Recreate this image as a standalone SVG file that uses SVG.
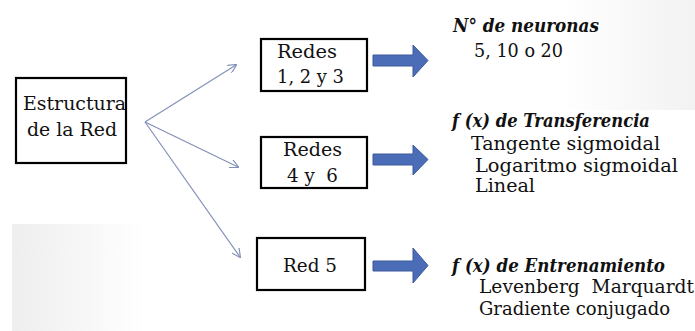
<svg xmlns="http://www.w3.org/2000/svg" width="695" height="331" viewBox="0 0 695 331">
<defs>
<style>
.box{fill:#fff;stroke:#000;stroke-width:2.2}
.t{font-family:"DejaVu Serif","Liberation Serif",serif;font-size:18px;fill:#111}
.h{font-family:"DejaVu Serif","Liberation Serif",serif;font-size:18px;font-style:italic;font-weight:bold;fill:#111}
.fan{stroke:#8391b8;stroke-width:1.2;fill:none}
.big{fill:#4b6cb7;stroke:#3c5a9c;stroke-width:1}
</style>
<marker id="ah" viewBox="0 0 10 10" refX="9" refY="5" markerWidth="9" markerHeight="9" markerUnits="userSpaceOnUse" orient="auto">
<path d="M0,0 L10,5 L0,10" fill="none" stroke="#8391b8" stroke-width="1.3"/>
</marker>
<linearGradient id="gl" x1="0" y1="0" x2="1" y2="0">
<stop offset="0" stop-color="#eeeeee"/>
<stop offset="1" stop-color="#ffffff"/>
</linearGradient>
<linearGradient id="gr" x1="0" y1="0" x2="1" y2="0">
<stop offset="0" stop-color="#ffffff"/>
<stop offset="1" stop-color="#f2f2f2"/>
</linearGradient>
</defs>
<rect width="695" height="331" fill="#fff"/>
<rect x="12" y="224" width="135" height="107" fill="url(#gl)"/>
<rect x="560" y="0" width="135" height="110" fill="url(#gr)"/>
<g id="connectors">
<line class="fan" x1="145" y1="122" x2="236" y2="65" marker-end="url(#ah)"/>
<line class="fan" x1="145" y1="122" x2="238" y2="167" marker-end="url(#ah)"/>
<line class="fan" x1="145" y1="122" x2="240" y2="257" marker-end="url(#ah)"/>
<path class="big" d="M373,55 L413,55 L413,45 L428,60.5 L413,77 L413,66 L373,66 Z"/>
<path class="big" d="M373,154 L413,154 L413,145 L428,159.5 L413,175 L413,165 L373,165 Z"/>
<path class="big" d="M373,261 L413,261 L413,248 L428,265.5 L413,283 L413,271 L373,271 Z"/>
</g>
<g id="estructura">
<rect class="box" x="16" y="78" width="110" height="85"/>
<text class="t" x="23" y="110" textLength="103" lengthAdjust="spacingAndGlyphs">Estructura</text>
<text class="t" x="27" y="136" textLength="90" lengthAdjust="spacingAndGlyphs">de la Red</text>
</g>
<g id="redes123">
<rect class="box" x="261" y="39" width="106" height="52"/>
<text class="t" x="277" y="58" textLength="60" lengthAdjust="spacingAndGlyphs">Redes</text>
<text class="t" x="277" y="83" textLength="67" lengthAdjust="spacingAndGlyphs">1, 2 y 3</text>
</g>
<g id="redes46">
<rect class="box" x="261" y="137" width="106" height="51"/>
<text class="t" x="283" y="156" textLength="59" lengthAdjust="spacingAndGlyphs">Redes</text>
<text class="t" x="287" y="182" xml:space="preserve" textLength="51" lengthAdjust="spacingAndGlyphs">4 y  6</text>
</g>
<g id="red5">
<rect class="box" x="257" y="238" width="108" height="52"/>
<text class="t" x="283" y="272" textLength="54" lengthAdjust="spacingAndGlyphs">Red 5</text>
</g>
<g id="neuronas">
<text class="h" x="453" y="32" textLength="146" lengthAdjust="spacingAndGlyphs">N° de neuronas</text>
<text class="t" x="474" y="57" textLength="89" lengthAdjust="spacingAndGlyphs">5, 10 o 20</text>
</g>
<g id="transferencia">
<text class="h" x="452" y="127" textLength="198" lengthAdjust="spacingAndGlyphs">f (x) de Transferencia</text>
<text class="t" x="471" y="150" textLength="189" lengthAdjust="spacingAndGlyphs">Tangente sigmoidal</text>
<text class="t" x="475" y="172" textLength="203" lengthAdjust="spacingAndGlyphs">Logaritmo sigmoidal</text>
<text class="t" x="475" y="192" textLength="60" lengthAdjust="spacingAndGlyphs">Lineal</text>
</g>
<g id="entrenamiento">
<text class="h" x="452" y="272" textLength="213" lengthAdjust="spacingAndGlyphs">f (x) de Entrenamiento</text>
<text class="t" x="479" y="293" xml:space="preserve" textLength="215" lengthAdjust="spacingAndGlyphs">Levenberg  Marquardt</text>
<text class="t" x="479" y="315" textLength="191" lengthAdjust="spacingAndGlyphs">Gradiente conjugado</text>
</g>
</svg>
